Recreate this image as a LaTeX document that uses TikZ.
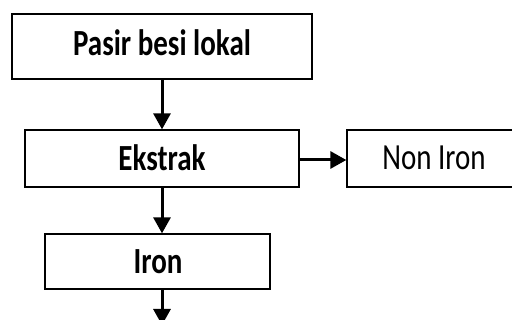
\documentclass[tikz,border=0pt]{standalone}
\usepackage{fontspec}
\usepackage{graphicx}
\setmainfont{Carlito}
\usetikzlibrary{arrows.meta}
\newcommand{\tallify}[1]{\scalebox{1}[1.27]{#1}}
\begin{document}
\begin{tikzpicture}[x=1pt,y=-1pt,
  box/.style={draw, line width=1.3pt, inner sep=0pt},
  flow/.style={line width=3pt, -{Triangle[length=16pt,width=17pt]}},
  boldlbl/.style={inner sep=0pt, font=\fontsize{29}{34}\selectfont\bfseries},
  plainlbl/.style={inner sep=0pt, font=\fontsize{29}{34}\selectfont}]
\useasboundingbox (0,0) rectangle (512,320);
\fill[white] (0,0) rectangle (512,320);
\node[box, minimum width=300pt, minimum height=65pt] (pasir) at (162,46.5) {};
\node[boldlbl] (t1) at (162,43) {\tallify{Pasir besi lokal}};
\node[box, minimum width=274pt, minimum height=57pt] (ekstrak) at (162,158.5) {};
\node[boldlbl] (t2) at (162,158) {\tallify{Ekstrak}};
\node[box, minimum width=170pt, minimum height=57pt] (non) at (432,158.5) {};
\node[plainlbl] (t3) at (434,158) {\tallify{Non Iron}};
\node[box, minimum width=225pt, minimum height=55pt] (iron) at (157.5,261.5) {};
\node[boldlbl] (t4) at (158,262) {\tallify{Iron}};
\coordinate (out) at (162,325);
\draw[flow] (pasir.south -| 162,0) -- (ekstrak.north -| 162,0);
\draw[flow] (ekstrak.south -| 162,0) -- (iron.north -| 162,0);
\draw[flow] (iron.south -| 162,0) -- (out);
\draw[flow] (ekstrak.east |- 0,160) -- (non.west |- 0,160);
\end{tikzpicture}
\end{document}
